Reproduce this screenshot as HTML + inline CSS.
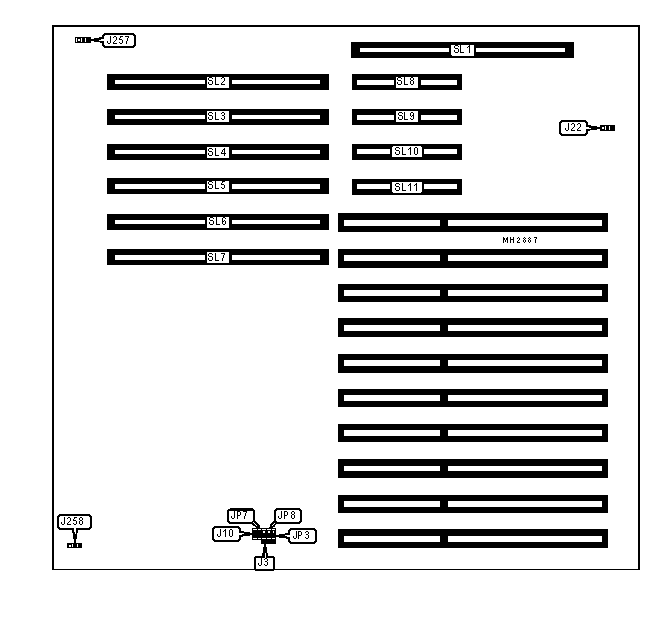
<!DOCTYPE html>
<html><head><meta charset="utf-8"><style>
html,body{margin:0;padding:0;background:#fff;width:649px;height:620px;overflow:hidden;}
svg{position:absolute;left:0;top:0;display:block;}
</style></head><body>
<svg width="649" height="620" viewBox="0 0 649 620" shape-rendering="crispEdges"><path fill="#000" d="M52 25h588v2h-588zM104 33h30v1h-30zM103 34h32v1h-32zM102 35h3v1h-3zM133 35h3v1h-3zM125 36h4v1h-4zM102 36h2v1h-2zM114 36h2v1h-2zM120 36h3v1h-3zM128 37h1v1h-1zM120 37h1v1h-1zM113 37h1v1h-1zM75 37h16v1h-16zM99 37h5v1h-5zM86 38h5v1h-5zM119 38h1v1h-1zM77 38h4v1h-4zM94 38h10v1h-10zM116 37h1v3h-1zM86 39h15v1h-15zM119 39h3v1h-3zM127 38h1v3h-1zM80 39h1v2h-1zM77 39h1v2h-1zM115 40h1v1h-1zM86 40h13v1h-13zM75 38h1v4h-1zM82 38h3v4h-3zM114 41h1v1h-1zM86 41h5v1h-5zM77 41h4v1h-4zM94 41h10v1h-10zM110 36h1v7h-1zM122 40h1v3h-1zM107 41h1v2h-1zM100 42h4v1h-4zM119 42h1v1h-1zM113 42h1v1h-1zM75 42h16v1h-16zM126 41h1v3h-1zM120 43h2v1h-2zM113 43h4v1h-4zM108 43h2v1h-2zM134 36h2v9h-2zM351 42h223v3h-223zM102 43h2v2h-2zM133 45h3v1h-3zM469 45h1v1h-1zM455 45h3v1h-3zM102 45h3v1h-3zM103 46h32v1h-32zM458 46h1v1h-1zM468 46h2v1h-2zM351 45h100v3h-100zM474 45h100v3h-100zM454 46h1v2h-1zM104 47h30v1h-30zM467 47h1v1h-1zM455 48h3v1h-3zM460 45h1v7h-1zM351 48h9v4h-9zM474 48h2v4h-2zM565 48h9v4h-9zM449 48h2v4h-2zM458 49h1v3h-1zM454 50h1v2h-1zM469 47h1v6h-1zM455 52h3v1h-3zM460 52h4v1h-4zM351 52h100v3h-100zM474 52h100v4h-100zM351 55h101v1h-101zM351 56h223v2h-223zM352 74h110v3h-110zM107 74h222v3h-222zM411 77h2v1h-2zM209 77h3v1h-3zM398 77h3v1h-3zM222 77h2v1h-2zM212 78h1v1h-1zM401 78h1v1h-1zM221 78h1v1h-1zM107 77h100v3h-100zM352 77h44v3h-44zM418 77h44v3h-44zM229 77h100v3h-100zM208 78h1v2h-1zM397 78h1v2h-1zM413 78h1v2h-1zM410 78h1v2h-1zM224 78h1v3h-1zM411 80h2v1h-2zM209 80h3v1h-3zM398 80h3v1h-3zM223 81h1v1h-1zM222 82h1v1h-1zM215 77h1v7h-1zM404 77h1v7h-1zM320 80h9v4h-9zM205 80h2v4h-2zM107 80h8v4h-8zM229 80h3v4h-3zM212 81h1v3h-1zM401 81h1v3h-1zM410 81h1v3h-1zM413 81h1v3h-1zM397 82h1v2h-1zM208 82h1v2h-1zM221 83h1v1h-1zM352 80h5v5h-5zM394 80h2v5h-2zM418 80h3v5h-3zM457 80h5v5h-5zM411 84h2v1h-2zM215 84h4v1h-4zM404 84h4v1h-4zM221 84h4v1h-4zM209 84h3v1h-3zM398 84h3v1h-3zM107 84h100v4h-100zM229 84h100v4h-100zM352 85h44v3h-44zM418 85h44v3h-44zM352 88h110v2h-110zM107 88h222v2h-222zM352 109h110v2h-110zM107 109h222v2h-222zM411 112h2v1h-2zM209 112h3v1h-3zM399 112h3v1h-3zM222 112h2v1h-2zM212 113h1v1h-1zM402 113h1v1h-1zM221 113h1v1h-1zM107 111h100v4h-100zM352 111h44v4h-44zM418 111h44v4h-44zM229 111h100v4h-100zM224 113h1v2h-1zM208 113h1v2h-1zM398 113h1v2h-1zM413 113h1v2h-1zM410 113h1v3h-1zM209 115h3v1h-3zM399 115h3v1h-3zM412 115h2v1h-2zM222 115h2v1h-2zM411 116h1v1h-1zM215 112h1v7h-1zM404 112h1v7h-1zM320 115h9v4h-9zM205 115h2v4h-2zM107 115h8v4h-8zM229 115h3v4h-3zM224 116h1v3h-1zM402 116h1v3h-1zM212 116h1v3h-1zM413 116h1v3h-1zM208 117h1v2h-1zM398 117h1v2h-1zM221 118h1v1h-1zM410 118h1v1h-1zM352 115h5v5h-5zM394 115h2v5h-2zM418 115h3v5h-3zM457 115h5v5h-5zM411 119h2v1h-2zM215 119h4v1h-4zM404 119h4v1h-4zM209 119h3v1h-3zM399 119h3v1h-3zM222 119h2v1h-2zM561 120h25v1h-25zM107 119h100v3h-100zM229 119h100v3h-100zM352 120h44v2h-44zM418 120h44v2h-44zM560 121h27v1h-27zM585 122h3v1h-3zM559 122h3v1h-3zM572 123h2v1h-2zM578 123h2v1h-2zM107 122h222v3h-222zM352 122h110v3h-110zM586 123h2v2h-2zM571 124h1v1h-1zM577 124h1v1h-1zM600 125h15v1h-15zM586 125h5v1h-5zM580 124h1v3h-1zM574 124h1v3h-1zM600 126h5v1h-5zM586 126h11v1h-11zM579 127h1v1h-1zM589 127h13v1h-13zM573 127h1v1h-1zM604 127h1v2h-1zM572 128h1v1h-1zM591 128h11v1h-11zM578 128h1v1h-1zM568 123h1v7h-1zM606 126h3v4h-3zM610 126h5v4h-5zM565 128h1v2h-1zM600 129h5v1h-5zM571 129h1v1h-1zM577 129h1v1h-1zM586 129h11v1h-11zM600 130h15v1h-15zM586 130h4v1h-4zM571 130h4v1h-4zM566 130h2v1h-2zM577 130h4v1h-4zM559 123h2v10h-2zM586 131h2v2h-2zM559 133h3v1h-3zM585 133h3v1h-3zM560 134h27v1h-27zM561 135h25v1h-25zM352 144h110v2h-110zM107 144h222v3h-222zM352 146h41v1h-41zM421 146h41v1h-41zM396 147h3v1h-3zM410 147h1v1h-1zM415 147h2v1h-2zM352 147h40v2h-40zM422 147h40v2h-40zM224 148h1v1h-1zM399 148h1v1h-1zM409 148h2v1h-2zM209 148h3v1h-3zM107 147h100v3h-100zM229 147h100v3h-100zM395 148h1v2h-1zM212 149h1v1h-1zM408 149h1v1h-1zM223 149h2v1h-2zM208 149h1v2h-1zM396 150h3v1h-3zM222 150h1v2h-1zM209 151h3v1h-3zM224 150h1v3h-1zM221 152h1v1h-1zM402 147h1v7h-1zM414 148h1v6h-1zM417 148h1v6h-1zM352 149h5v5h-5zM390 149h2v5h-2zM422 149h2v5h-2zM457 149h5v5h-5zM107 150h8v4h-8zM320 150h9v4h-9zM229 150h3v4h-3zM205 150h2v4h-2zM399 151h1v3h-1zM395 152h1v2h-1zM221 153h5v1h-5zM215 148h1v7h-1zM410 149h1v6h-1zM212 152h1v3h-1zM208 153h1v2h-1zM402 154h4v1h-4zM396 154h3v1h-3zM415 154h2v1h-2zM224 154h1v2h-1zM215 155h4v1h-4zM209 155h3v1h-3zM352 154h40v3h-40zM422 154h40v3h-40zM107 154h100v4h-100zM229 154h100v4h-100zM352 157h110v3h-110zM107 158h222v2h-222zM107 178h222v3h-222zM352 179h110v3h-110zM222 181h3v1h-3zM209 181h3v1h-3zM222 182h1v1h-1zM212 182h1v1h-1zM107 181h100v3h-100zM229 181h100v3h-100zM208 182h1v2h-1zM352 182h40v2h-40zM422 182h40v2h-40zM396 183h3v1h-3zM221 183h1v1h-1zM416 183h1v1h-1zM410 183h1v1h-1zM399 184h1v1h-1zM409 184h2v1h-2zM209 184h3v1h-3zM415 184h2v1h-2zM221 184h3v1h-3zM395 184h1v2h-1zM408 185h1v1h-1zM414 185h1v1h-1zM396 186h3v1h-3zM215 181h1v7h-1zM224 185h1v3h-1zM212 185h1v3h-1zM208 186h1v2h-1zM221 187h1v1h-1zM320 184h9v5h-9zM352 184h5v5h-5zM390 184h2v5h-2zM422 184h2v5h-2zM205 184h2v5h-2zM457 184h5v5h-5zM107 184h8v5h-8zM229 184h3v5h-3zM215 188h4v1h-4zM209 188h3v1h-3zM222 188h2v1h-2zM402 183h1v7h-1zM399 187h1v3h-1zM395 188h1v2h-1zM416 185h1v6h-1zM410 185h1v6h-1zM402 190h4v1h-4zM396 190h3v1h-3zM107 189h100v3h-100zM352 189h40v3h-40zM422 189h40v3h-40zM229 189h100v3h-100zM352 192h41v1h-41zM421 192h41v1h-41zM107 192h222v2h-222zM352 193h110v2h-110zM107 214h222v3h-222zM210 217h3v1h-3zM223 217h2v1h-2zM213 218h1v1h-1zM225 218h1v1h-1zM338 213h270v7h-270zM107 217h100v3h-100zM229 217h100v3h-100zM209 218h1v2h-1zM222 218h1v3h-1zM210 220h3v1h-3zM224 220h1v1h-1zM222 221h2v1h-2zM216 217h1v7h-1zM320 220h9v4h-9zM205 220h2v4h-2zM107 220h8v4h-8zM229 220h3v4h-3zM213 221h1v3h-1zM225 221h1v3h-1zM209 222h1v2h-1zM222 222h1v2h-1zM210 224h3v1h-3zM223 224h2v1h-2zM216 224h4v1h-4zM338 220h6v6h-6zM440 220h8v6h-8zM602 220h6v6h-6zM107 224h100v4h-100zM229 224h100v4h-100zM107 228h222v2h-222zM338 226h270v6h-270zM524 237h1v1h-1zM534 237h3v1h-3zM507 237h1v1h-1zM529 237h1v1h-1zM518 237h1v1h-1zM503 237h1v1h-1zM513 237h1v2h-1zM510 237h1v2h-1zM528 238h1v1h-1zM517 238h1v1h-1zM523 238h1v1h-1zM525 238h1v1h-1zM536 238h1v1h-1zM530 238h1v1h-1zM506 238h2v2h-2zM503 238h2v2h-2zM519 238h1v2h-1zM524 239h1v1h-1zM510 239h4v1h-4zM529 239h1v1h-1zM518 240h1v1h-1zM523 240h1v2h-1zM525 240h1v2h-1zM528 240h1v2h-1zM530 240h1v2h-1zM505 240h1v2h-1zM517 241h1v1h-1zM535 239h1v4h-1zM513 240h1v3h-1zM510 240h1v3h-1zM507 240h1v3h-1zM503 240h1v3h-1zM524 242h1v1h-1zM529 242h1v1h-1zM517 242h3v1h-3zM107 249h222v3h-222zM221 253h4v1h-4zM209 253h3v1h-3zM338 249h270v6h-270zM107 252h100v3h-100zM229 252h100v3h-100zM224 254h1v1h-1zM212 254h1v1h-1zM208 254h1v2h-1zM209 256h3v1h-3zM223 255h1v3h-1zM215 253h1v7h-1zM320 255h9v5h-9zM205 255h2v5h-2zM107 255h8v5h-8zM229 255h3v5h-3zM212 257h1v3h-1zM208 258h1v2h-1zM338 255h6v6h-6zM440 255h8v6h-8zM602 255h6v6h-6zM222 258h1v3h-1zM215 260h4v1h-4zM209 260h3v1h-3zM107 260h100v3h-100zM229 260h100v3h-100zM107 263h222v2h-222zM338 261h270v7h-270zM338 284h270v6h-270zM338 290h6v6h-6zM440 290h8v6h-8zM602 290h6v6h-6zM338 296h270v6h-270zM338 318h270v7h-270zM338 325h6v6h-6zM440 325h8v6h-8zM602 325h6v6h-6zM338 331h270v6h-270zM338 354h270v6h-270zM338 360h6v6h-6zM440 360h8v6h-8zM602 360h6v6h-6zM338 366h270v7h-270zM338 389h270v6h-270zM338 395h6v6h-6zM440 395h8v6h-8zM602 395h6v6h-6zM338 401h270v6h-270zM338 424h270v6h-270zM338 430h6v6h-6zM440 430h8v6h-8zM602 430h6v6h-6zM338 436h270v6h-270zM338 459h270v7h-270zM338 466h6v5h-6zM440 466h8v5h-8zM602 466h6v5h-6zM338 471h270v7h-270zM338 495h270v6h-270zM338 501h6v6h-6zM440 501h8v6h-8zM602 501h6v6h-6zM230 508h23v1h-23zM276 508h24v1h-24zM228 509h26v1h-26zM275 509h26v1h-26zM274 510h3v1h-3zM227 510h28v1h-28zM299 510h3v1h-3zM243 511h4v1h-4zM237 511h3v1h-3zM284 511h3v1h-3zM292 511h2v1h-2zM338 507h270v6h-270zM246 512h1v1h-1zM291 512h1v2h-1zM294 512h1v2h-1zM237 512h1v3h-1zM240 512h1v3h-1zM284 512h1v3h-1zM287 512h1v3h-1zM59 514h31v1h-31zM292 514h2v1h-2zM245 513h1v3h-1zM58 515h33v1h-33zM237 515h3v1h-3zM284 515h3v1h-3zM89 516h3v1h-3zM57 516h3v1h-3zM281 511h1v7h-1zM234 511h1v7h-1zM291 515h1v3h-1zM294 515h1v3h-1zM231 516h1v2h-1zM278 516h1v2h-1zM80 517h2v1h-2zM74 517h3v1h-3zM68 517h2v1h-2zM244 516h1v3h-1zM237 516h1v3h-1zM284 516h1v3h-1zM67 518h1v1h-1zM74 518h1v1h-1zM232 518h2v1h-2zM292 518h2v1h-2zM279 518h2v1h-2zM82 518h1v2h-1zM79 518h1v2h-1zM73 519h1v1h-1zM253 511h2v10h-2zM227 511h2v10h-2zM300 511h2v10h-2zM274 511h2v10h-2zM70 518h1v3h-1zM73 520h3v1h-3zM80 520h2v1h-2zM252 521h4v1h-4zM273 521h4v1h-4zM299 521h3v1h-3zM69 521h1v1h-1zM227 521h3v1h-3zM68 522h1v1h-1zM272 522h29v1h-29zM254 522h3v1h-3zM228 522h25v1h-25zM64 517h1v7h-1zM82 521h1v3h-1zM79 521h1v3h-1zM76 521h1v3h-1zM61 522h1v2h-1zM229 523h25v1h-25zM67 523h1v1h-1zM271 523h3v1h-3zM275 523h25v1h-25zM73 523h1v1h-1zM255 523h3v1h-3zM256 524h3v1h-3zM252 524h3v1h-3zM67 524h4v1h-4zM270 524h3v1h-3zM274 524h2v1h-2zM62 524h2v1h-2zM74 524h2v1h-2zM80 524h2v1h-2zM273 525h2v1h-2zM253 525h3v1h-3zM257 525h3v1h-3zM270 525h2v1h-2zM57 517h2v10h-2zM90 517h2v10h-2zM214 526h25v1h-25zM255 526h5v1h-5zM270 526h5v1h-5zM269 527h4v1h-4zM213 527h27v1h-27zM256 527h4v1h-4zM89 527h3v1h-3zM57 527h3v1h-3zM76 528h15v1h-15zM238 528h3v1h-3zM58 528h16v1h-16zM290 528h25v1h-25zM212 528h3v1h-3zM252 528h24v1h-24zM59 529h15v1h-15zM261 529h1v1h-1zM257 529h1v1h-1zM266 529h1v1h-1zM289 529h27v1h-27zM271 529h1v1h-1zM275 529h1v1h-1zM76 529h14v1h-14zM230 529h2v1h-2zM252 529h1v1h-1zM225 529h1v1h-1zM239 529h2v2h-2zM288 530h3v1h-3zM314 530h3v1h-3zM252 530h24v1h-24zM224 530h2v1h-2zM72 530h2v2h-2zM239 531h5v1h-5zM223 531h1v1h-1zM298 531h3v1h-3zM306 531h2v1h-2zM76 530h2v3h-2zM265 531h3v2h-3zM270 531h3v2h-3zM274 531h2v2h-2zM252 531h11v2h-11zM288 531h2v2h-2zM239 532h11v1h-11zM72 532h3v1h-3zM305 532h1v1h-1zM308 532h1v2h-1zM73 533h2v1h-2zM285 533h5v1h-5zM76 533h1v1h-1zM244 533h32v1h-32zM301 532h1v3h-1zM298 532h1v3h-1zM279 534h11v1h-11zM242 534h34v1h-34zM306 534h2v1h-2zM220 529h1v7h-1zM338 529h270v7h-270zM229 530h1v6h-1zM232 530h1v6h-1zM217 534h1v2h-1zM252 535h33v1h-33zM298 535h3v1h-3zM239 535h11v1h-11zM225 531h1v6h-1zM218 536h2v1h-2zM252 536h35v1h-35zM230 536h2v1h-2zM239 536h4v1h-4zM296 531h1v7h-1zM308 535h1v3h-1zM293 536h1v2h-1zM305 537h1v1h-1zM279 537h11v1h-11zM252 537h24v1h-24zM212 529h2v10h-2zM73 534h4v5h-4zM298 536h1v3h-1zM239 537h2v2h-2zM294 538h2v1h-2zM252 538h1v1h-1zM261 538h1v1h-1zM257 538h1v1h-1zM266 538h1v1h-1zM275 538h1v1h-1zM271 538h1v1h-1zM306 538h2v1h-2zM286 538h4v1h-4zM238 539h3v1h-3zM212 539h3v1h-3zM252 539h24v1h-24zM315 531h2v10h-2zM288 539h2v2h-2zM213 540h27v1h-27zM338 536h6v6h-6zM440 536h8v6h-8zM602 536h6v6h-6zM214 541h25v1h-25zM288 541h3v1h-3zM314 541h3v1h-3zM74 539h2v4h-2zM289 542h27v1h-27zM261 540h15v4h-15zM290 543h25v1h-25zM67 543h15v1h-15zM67 544h5v1h-5zM264 544h2v3h-2zM73 544h4v3h-4zM78 544h4v3h-4zM67 545h2v2h-2zM71 545h1v2h-1zM338 542h270v6h-270zM67 547h15v1h-15zM263 547h4v6h-4zM262 553h3v3h-3zM266 553h2v3h-2zM266 556h8v1h-8zM255 556h10v1h-10zM266 557h9v1h-9zM254 557h11v1h-11zM265 558h2v1h-2zM264 559h1v1h-1zM267 559h1v2h-1zM265 561h2v1h-2zM261 558h1v7h-1zM267 562h1v3h-1zM258 563h1v2h-1zM264 564h1v1h-1zM259 565h2v1h-2zM265 565h2v1h-2zM638 27h2v542h-2zM52 27h2v542h-2zM273 558h2v11h-2zM254 558h2v11h-2zM52 569h588v1h-588zM255 570h19v1h-19z"/></svg>
</body></html>
